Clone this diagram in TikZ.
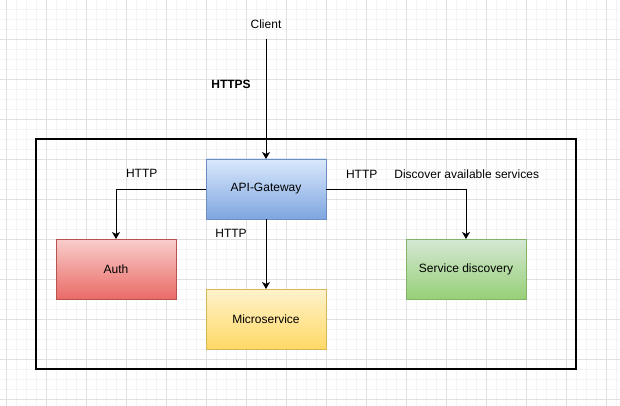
\documentclass[tikz,border=0pt]{standalone}
\usepackage{fontspec}
\setmainfont{Liberation Sans}
\usepackage{xcolor}
\usetikzlibrary{arrows.meta,positioning}

\definecolor{gwtop}{HTML}{DAE8FC}
\definecolor{gwbot}{HTML}{7EA6E0}
\definecolor{gwline}{HTML}{6C8EBF}
\definecolor{authtop}{HTML}{F8CECC}
\definecolor{authbot}{HTML}{EA6B66}
\definecolor{authline}{HTML}{B85450}
\definecolor{mstop}{HTML}{FFF2CC}
\definecolor{msbot}{HTML}{FFD966}
\definecolor{msline}{HTML}{D6B656}
\definecolor{sdtop}{HTML}{D5E8D4}
\definecolor{sdbot}{HTML}{97D077}
\definecolor{sdline}{HTML}{82B366}
\definecolor{gridmin}{HTML}{F4F4F4}
\definecolor{gridmaj}{HTML}{E0E0E0}

\begin{document}
\begin{tikzpicture}[
  x=1pt, y=-1pt,
  >={Stealth[length=7pt,width=8pt,inset=2pt]},
  box/.style={draw, minimum width=120pt, minimum height=60pt, inner sep=0pt,
    outer sep=0pt, font=\fontsize{12}{14}\selectfont},
  lbl/.style={font=\fontsize{12}{14}\selectfont, inner sep=0pt},
  arr/.style={->, line width=1pt},
  minor/.style={gridmin, line width=1pt},
  major/.style={gridmaj, line width=1pt}
]
\useasboundingbox (0,0) rectangle (620,406);
\fill[white] (0,0) rectangle (620,406);

% Background grid
\foreach \gx in {6,16,...,616} \draw[minor] (\gx,0) -- (\gx,406);
\foreach \gy in {-0.7,9.3,...,409.3} \draw[minor] (0,\gy) -- (620,\gy);
\foreach \gx in {6,46,...,606} \draw[major] (\gx,0) -- (\gx,406);
\foreach \gy in {-0.7,39.3,...,399.3} \draw[major] (0,\gy) -- (620,\gy);

% Container
\node[draw, line width=2pt, minimum width=540pt, minimum height=230pt,
  inner sep=0pt, outer sep=0pt] (B) at (306,254) {};

% Services
\node[lbl, minimum height=30pt] (K) at (266,24) {Client};
\node[box, top color=gwtop, bottom color=gwbot, draw=gwline]
  (G) at (266,189) {API-Gateway};
\node[box, top color=authtop, bottom color=authbot, draw=authline]
  (A) at (116,269) {Auth};
\node[box, top color=mstop, bottom color=msbot, draw=msline]
  (M) at (266,319) {Microservice};
\node[box, top color=sdtop, bottom color=sdbot, draw=sdline]
  (S) at (466,269) {Service discovery};

% Connections
\draw[arr] (K.south) -- (G.north);
\draw[arr] (G.west) -| (A.north);
\draw[arr] (G.south) -- (M.north);
\draw[arr] (G.east) -| (S.north);

% Labels
\node[lbl, font=\fontsize{12}{14}\selectfont\bfseries] (L0) at (231,84) {HTTPS};
\node[lbl] (L1) at (141.7,173.5) {HTTP};
\node[lbl] (L2) at (231,233.5) {HTTP};
\node[lbl] (L3) at (361.7,174) {HTTP};
\node[lbl] (L4) at (466.7,174) {Discover available services};
\end{tikzpicture}
\end{document}
